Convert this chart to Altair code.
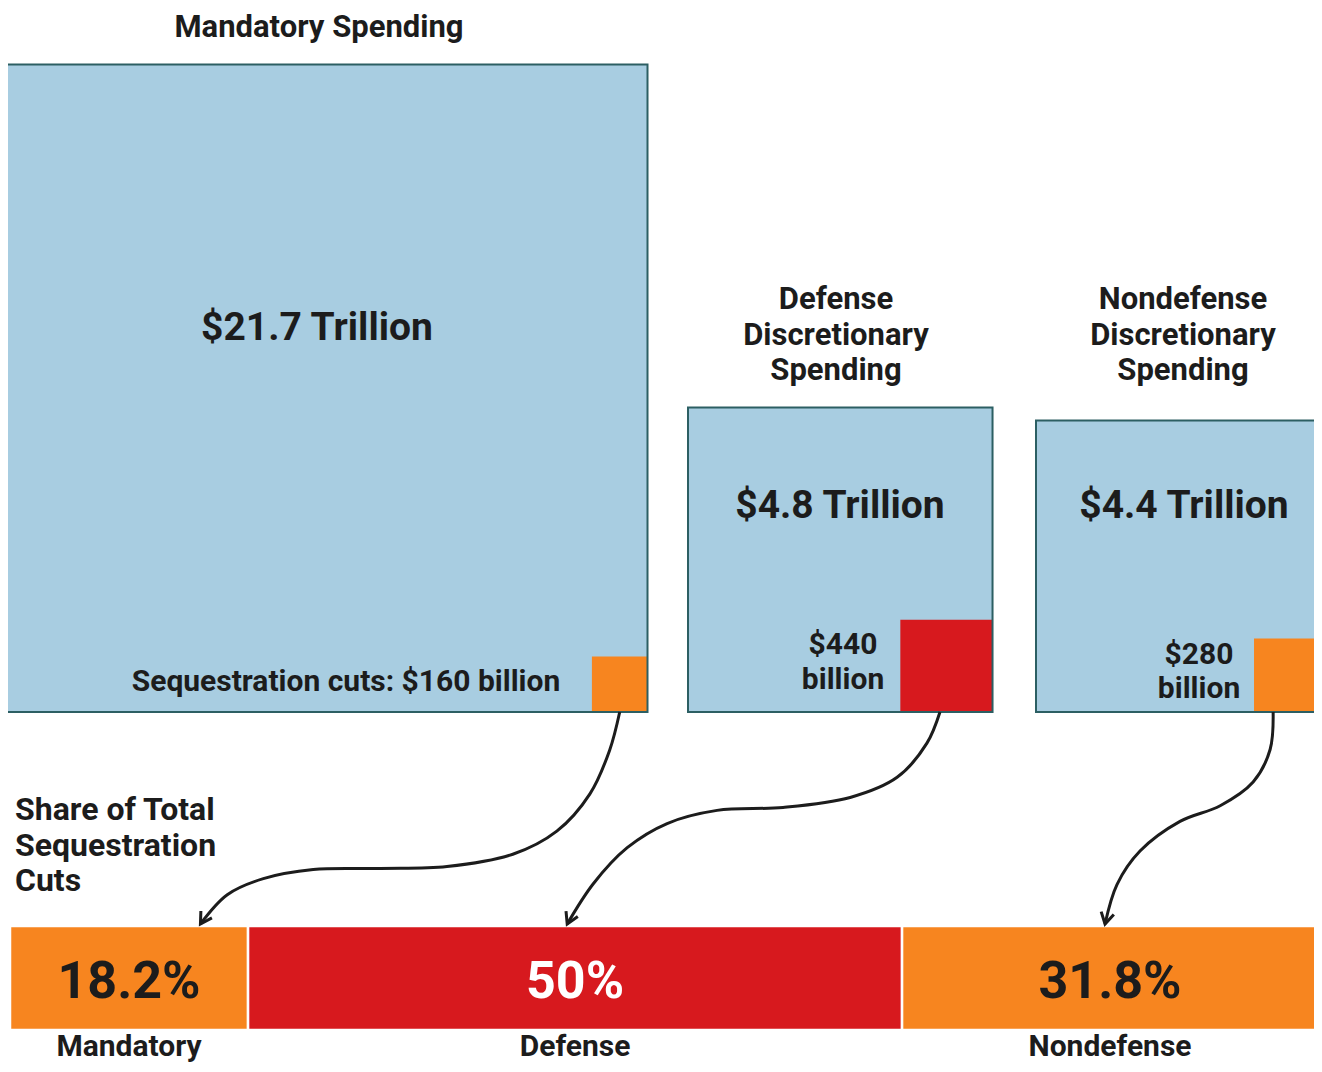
import altair as alt
import pandas as pd
import numpy as np

# ---------------- data ----------------
categories = ["Mandatory", "Defense", "Nondefense"]
spending_trillion = [21.7, 4.8, 4.4]
cuts_billion = [160, 440, 280]
share_pct = [18.2, 50.0, 31.8]
spending_labels = ["$21.7 Trillion", "$4.8 Trillion", "$4.4 Trillion"]
cut_labels = [["Sequestration cuts: $160 billion"], ["$440", "billion"], ["$280", "billion"]]
group_titles = [["Mandatory Spending"],
                ["Defense", "Discretionary", "Spending"],
                ["Nondefense", "Discretionary", "Spending"]]
share_title = ["Share of Total", "Sequestration", "Cuts"]
share_labels = ["18.2%", "50%", "31.8%"]

# ---------------- layout / style ----------------
W, H = 1306, 1056
M = 8
K = 139.0            # px per sqrt(trillion) -> square area proportional to spending
BASE = 712
LEFT = [0, 688, 1036]
BX0, BX1, BY0, BY1 = 10, 1318, 926, 1030
FONT2 = "Roboto, sans-serif"

BLUE = "#a8cde1"
EDGE = "#2c5f63"
ORANGE = "#f7851f"
RED = "#d7191e"
INK = "#1c1c1c"
WHITE = "#ffffff"
cut_colors = [ORANGE, RED, ORANGE]
share_text_colors = [INK, WHITE, INK]

xs = alt.Scale(domain=[M, M + W], nice=False, zero=False)
ys = alt.Scale(domain=[M, M + H], nice=False, zero=False, reverse=True)

def X(f="x"):
    return alt.X(f"{f}:Q", scale=xs, axis=None)

def Y(f="y"):
    return alt.Y(f"{f}:Q", scale=ys, axis=None)

# squares
sq_rows, cut_rows = [], []
for i, c in enumerate(categories):
    s = K * np.sqrt(spending_trillion[i])
    cs = K * np.sqrt(cuts_billion[i] / 1000.0)
    x0 = LEFT[i]
    sq_rows.append(dict(cat=c, x=x0, x2=x0 + s, y=BASE - s, y2=BASE, fill=BLUE))
    cut_rows.append(dict(cat=c, x=x0 + s - cs, x2=x0 + s, y=BASE - cs, y2=BASE, fill=cut_colors[i]))
sq = pd.DataFrame(sq_rows)
cuts = pd.DataFrame(cut_rows)

# stacked share bar
cum = np.concatenate([[0], np.cumsum(share_pct)])
scale_bar = (BX1 - BX0) / 100.0
bar = pd.DataFrame(dict(cat=categories,
                        x=BX0 + cum[:-1] * scale_bar,
                        x2=BX0 + cum[1:] * scale_bar,
                        y=[BY0] * 3, y2=[BY1] * 3,
                        fill=cut_colors))
seg_centers = (bar["x"] + bar["x2"]) / 2

# arrows: normalized shapes between start (cut square bottom) and end (bar top)
arrow_shapes = [
    [(0, 0), (0.024, 0.18), (0.071, 0.386), (0.15, 0.562), (0.255, 0.671), (0.412, 0.729),
     (0.571, 0.738), (0.731, 0.743), (0.85, 0.786), (0.936, 0.862), (1, 1)],
    [(0, 0), (0.035, 0.147), (0.115, 0.308), (0.241, 0.403), (0.421, 0.45), (0.598, 0.464),
     (0.732, 0.526), (0.839, 0.64), (0.93, 0.81), (1, 1)],
    [(0, 0), (0.018, 0.177), (0.119, 0.33), (0.315, 0.442), (0.554, 0.516), (0.792, 0.656),
     (0.929, 0.814), (1, 1)],
]
start_frac = [0.5, 0.43, 0.26]
end_frac = [0.8, 0.488, 0.488]
line_rows, head_rows = [], []
for i, c in enumerate(categories):
    cr = cut_rows[i]
    sx = cr["x"] + start_frac[i] * (cr["x2"] - cr["x"])
    sy = BASE
    ex = bar["x"][i] + end_frac[i] * (bar["x2"][i] - bar["x"][i])
    ey = BY0 - 2
    pts = [(sx + fx * (ex - sx), sy + fy * (ey - sy)) for fx, fy in arrow_shapes[i]]
    for j, (px, py) in enumerate(pts):
        line_rows.append(dict(cat=c, i=j, x=px, y=py))
    (px, py), (qx, qy) = pts[-2], pts[-1]
    ang = np.degrees(np.arctan2(-(qx - px), (qy - py))) * 0.75
    head_rows.append(dict(cat=c, x=qx, y=qy, angle=float(ang)))
lines = pd.DataFrame(line_rows)
heads = pd.DataFrame(head_rows)

# text
txt = []
def add(x, y, t, size, color=INK):
    txt.append(dict(x=x, y=y, text=t, size=size, color=color))

add(319, 37, group_titles[0][0], 31)
for k, t in enumerate(group_titles[1]):
    add(836, 309 + 35.5 * k, t, 31)
for k, t in enumerate(group_titles[2]):
    add(1183, 309 + 35.5 * k, t, 31)
add(317, 340, spending_labels[0], 39)
add(840, 518, spending_labels[1], 39)
add(1184, 518, spending_labels[2], 39)
add(346, 691, cut_labels[0][0], 30)
for k, t in enumerate(cut_labels[1]):
    add(843, 654 + 35 * k, t, 30)
for k, t in enumerate(cut_labels[2]):
    add(1199, 664 + 34 * k, t, 30)
for i in range(3):
    add(float(seg_centers[i]), 998, share_labels[i], 52, share_text_colors[i])
    add(float(seg_centers[i]), 1056, categories[i], 30)
texts = pd.DataFrame(txt)
left_txt = pd.DataFrame(dict(x=[15] * 3, y=[820 + 35.5 * k for k in range(3)], text=share_title))

# ---------------- chart ----------------
base_sq = alt.Chart(sq).mark_rect().encode(
    x=X(), x2="x2:Q", y=Y(), y2="y2:Q", fill=alt.Fill("fill:N", scale=None))
cut_layer = alt.Chart(cuts).mark_rect().encode(
    x=X(), x2="x2:Q", y=Y(), y2="y2:Q", fill=alt.Fill("fill:N", scale=None))
outline = alt.Chart(sq).mark_rect(fillOpacity=0, stroke=EDGE, strokeWidth=2).encode(
    x=X(), x2="x2:Q", y=Y(), y2="y2:Q")
bar_layer = alt.Chart(bar).mark_rect(stroke=WHITE, strokeWidth=2.5).encode(
    x=X(), x2="x2:Q", y=Y(), y2="y2:Q", fill=alt.Fill("fill:N", scale=None))
line_layer = alt.Chart(lines).mark_line(interpolate="catmull-rom", strokeWidth=3, color=INK).encode(
    x=X(), y=Y(), detail="cat:N", order=alt.Order("i:Q"))
head_layer = alt.Chart(heads).mark_point(
    shape="M-0.75,-1.3L0,0L0.75,-1.3", filled=False, stroke=INK, strokeWidth=3, size=300, opacity=1
).encode(x=X(), y=Y(), angle=alt.Angle("angle:Q", scale=None))
text_layer = alt.Chart(texts).mark_text(
    font=FONT2, fontWeight="bold", baseline="alphabetic", align="center"
).encode(x=X(), y=Y(), text="text:N",
         size=alt.Size("size:Q", scale=None), color=alt.Color("color:N", scale=None))
left_layer = alt.Chart(left_txt).mark_text(
    font=FONT2, fontWeight="bold", baseline="alphabetic", align="left", fontSize=32, color=INK
).encode(x=X(), y=Y(), text="text:N")

chart = alt.layer(base_sq, cut_layer, outline, bar_layer, line_layer, head_layer,
                  text_layer, left_layer).properties(
    width=W, height=H, padding=0,
    autosize=alt.AutoSizeParams(type="none"), background="white"
).configure_view(strokeWidth=0)

chart.save("out.html", embed_options={"renderer": "svg", "actions": False})
